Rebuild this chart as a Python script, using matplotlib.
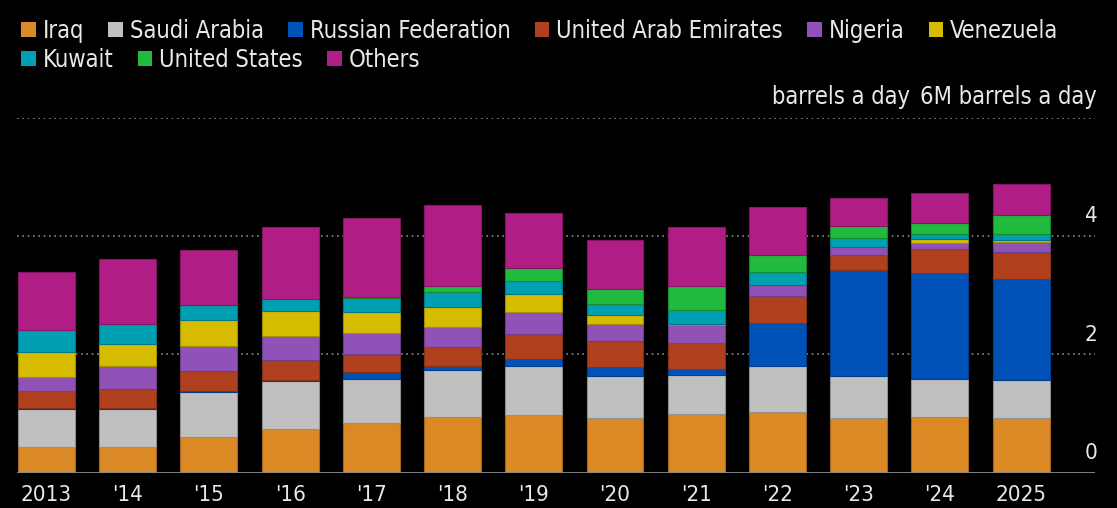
import matplotlib
matplotlib.use("Agg")
import matplotlib.pyplot as plt
import matplotlib.transforms as mtransforms
from matplotlib.patches import Patch
from matplotlib.colors import to_rgb
import numpy as np

plt.rcParams['font.family'] = ['DejaVu Sans']
plt.rcParams['font.stretch'] = 'condensed'

years = ['2013', "'14", "'15", "'16", "'17", "'18", "'19", "'20", "'21", "'22", "'23", "'24", '2025']

iraq      = [0.44, 0.44, 0.60, 0.74, 0.84, 0.95, 0.98, 0.93, 0.99, 1.03, 0.92, 0.95, 0.92]
saudi     = [0.63, 0.63, 0.76, 0.81, 0.75, 0.79, 0.82, 0.71, 0.67, 0.77, 0.71, 0.63, 0.64]
russia    = [0.02, 0.03, 0.02, 0.02, 0.11, 0.07, 0.13, 0.14, 0.10, 0.73, 1.80, 1.80, 1.72]
uae       = [0.29, 0.32, 0.34, 0.33, 0.31, 0.32, 0.42, 0.45, 0.43, 0.46, 0.26, 0.40, 0.45]
nigeria   = [0.24, 0.38, 0.42, 0.41, 0.35, 0.34, 0.37, 0.28, 0.31, 0.19, 0.13, 0.11, 0.18]
venezuela = [0.42, 0.37, 0.45, 0.42, 0.35, 0.33, 0.31, 0.16, 0.01, 0.00, 0.00, 0.07, 0.03]
kuwait    = [0.37, 0.34, 0.24, 0.20, 0.24, 0.25, 0.22, 0.19, 0.24, 0.21, 0.15, 0.08, 0.10]
us        = [0.00, 0.00, 0.00, 0.00, 0.02, 0.10, 0.22, 0.25, 0.40, 0.30, 0.21, 0.19, 0.32]
others    = [0.99, 1.11, 0.94, 1.23, 1.33, 1.37, 0.93, 0.83, 1.00, 0.80, 0.46, 0.50, 0.52]

series_names = ['Iraq', 'Saudi Arabia', 'Russian Federation', 'United Arab Emirates',
                'Nigeria', 'Venezuela', 'Kuwait', 'United States', 'Others']
series_values = [iraq, saudi, russia, uae, nigeria, venezuela, kuwait, us, others]
series_colors = ['#DB8A25', '#C0C0C0', '#0052B9', '#B0401E', '#9152B8',
                 '#D6BC00', '#009FB2', '#20BA3E', '#B01E85']

ytick_vals = [0, 2, 4, 6]
ytick_labels = ['0', '2', '4', '6M barrels a day']

W, H = 1117, 508
fig = plt.figure(figsize=(W / 100, H / 100), dpi=100, facecolor='black')
ax = fig.add_axes([17 / W, (H - 472.7) / H, (1095 - 17) / W, (472.7 - 118) / H])
ax.set_facecolor('black')

x = np.arange(len(years))
bottom = np.zeros(len(years))
for name, vals, col in zip(series_names, series_values, series_colors):
    v = np.array(vals)
    edge = tuple(c * 0.75 for c in to_rgb(col))
    ax.bar(x, v, width=0.70, bottom=bottom, color=col, edgecolor=edge,
           linewidth=0.8, zorder=2, label=name)
    bottom += v

ax.set_xlim(-0.363, 12.91)
ax.set_ylim(0, 6)

for yv in ytick_vals[1:]:
    ax.axhline(yv, color='#8a8a8a', linestyle=(0, (1, 2.2)), linewidth=1.2, zorder=1)
ax.axhline(0, color='#8c8c8c', linewidth=2, zorder=3)

for s in ax.spines.values():
    s.set_visible(False)
ax.set_yticks([])
ax.set_xticks(x)
ax.set_xticklabels(years, color='#e8e8e8', fontsize=16)
ax.tick_params(axis='x', length=0, pad=9)

trans = ax.get_yaxis_transform()
offset = mtransforms.ScaledTranslation(2 / 100, 10 / 72, fig.dpi_scale_trans)
for yv, lab in zip(ytick_vals, ytick_labels):
    ax.text(1.0, yv, lab, transform=trans + offset, ha='right', va='baseline',
            color='#e8e8e8', fontsize=17 if len(lab) > 1 else 16)
# axis unit label, left of the top tick label
ax.text(1.0, 6, 'barrels a day',
        transform=trans + offset + mtransforms.ScaledTranslation(-187 / 100, 0, fig.dpi_scale_trans),
        ha='right', va='baseline', color='#e8e8e8', fontsize=17)

handles = [Patch(facecolor=c, edgecolor='none') for c in series_colors]
leg_kw = dict(frameon=False, fontsize=17, handlelength=0.62, handleheight=0.62,
              handletextpad=0.3, columnspacing=1.02, borderpad=0, borderaxespad=0,
              labelcolor='#e8e8e8', loc='upper left')
leg1 = fig.legend(handles[:6], series_names[:6], ncol=6,
                  bbox_to_anchor=(21 / W, 1 - 19 / H), **leg_kw)
leg2 = fig.legend(handles[6:], series_names[6:], ncol=3,
                  bbox_to_anchor=(21 / W, 1 - 48 / H), **leg_kw)

fig.savefig('out.png', dpi=100, facecolor='black')
